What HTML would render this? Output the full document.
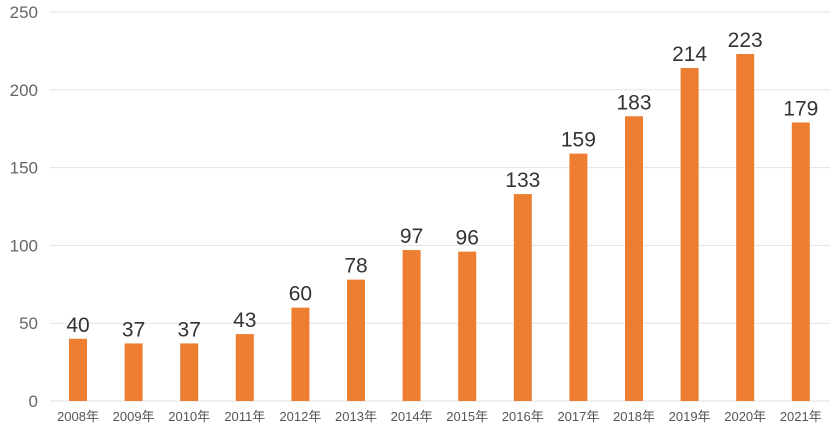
<!DOCTYPE html>
<html><head><meta charset="utf-8"><style>
body{margin:0;background:#fff;width:840px;height:431px;overflow:hidden}
svg{display:block}
</style></head><body>
<svg id="chart" width="840" height="431" xmlns="http://www.w3.org/2000/svg" font-family="'Liberation Sans','Noto Sans CJK SC',sans-serif"></svg>
<script>
const categories=["2008年","2009年","2010年","2011年","2012年","2013年","2014年","2015年","2016年","2017年","2018年","2019年","2020年","2021年"];
const values=[40,37,37,43,60,78,97,96,133,159,183,214,223,179];
const yTicks=[0,50,100,150,200,250];
const NS="http://www.w3.org/2000/svg";
const svg=document.getElementById('chart');
const y0=401,yTop=12,yMax=250,x0=78,step=55.6,bw=18;
const y=v=>y0-(v/yMax)*(y0-yTop);
const x=i=>x0+i*step;
function mk(t,a,p){const e=document.createElementNS(NS,t);for(const k in a)e.setAttribute(k,a[k]);(p||svg).appendChild(e);return e;}
yTicks.forEach(t=>{
  const l=mk('line',{x1:50,x2:830,y1:y(t),y2:y(t),stroke:'#e3e3e3','stroke-width':1});
  
  
  const tx=mk('text',{x:38,y:y(t)+6,'text-anchor':'end','font-size':17,fill:'#666'});
  tx.textContent=t;
  
  
});
values.forEach((v,i)=>{
  const r=mk('rect',{x:x(i)-bw/2,y:y(v),width:bw,height:y0-y(v),fill:'#ed7d31'});
  
  
  const t=mk('text',{x:x(i),y:y(v)-7,'text-anchor':'middle','font-size':21,fill:'#333'});
  t.textContent=v;
  
  
  const c=mk('text',{x:x(i),y:421,'text-anchor':'middle','font-size':13,fill:'#555'});
  c.textContent=categories[i];
  
  
});
</script>
</body></html>
